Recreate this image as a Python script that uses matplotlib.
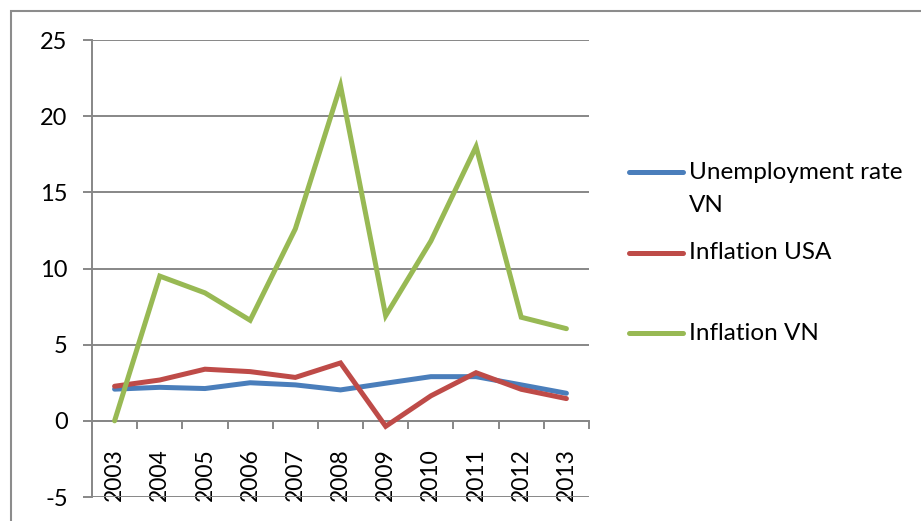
import matplotlib
matplotlib.use("Agg")
import matplotlib.pyplot as plt
from matplotlib.lines import Line2D
from matplotlib.patches import Rectangle
import numpy as np

years = ["2003", "2004", "2005", "2006", "2007", "2008", "2009", "2010", "2011", "2012", "2013"]
unemployment_vn = [2.08, 2.2, 2.12, 2.5, 2.36, 2.03, 2.47, 2.9, 2.9, 2.36, 1.81]
inflation_usa = [2.27, 2.68, 3.39, 3.23, 2.85, 3.8, -0.36, 1.64, 3.16, 2.07, 1.46]
inflation_vn = [0.0, 9.5, 8.4, 6.6, 12.6, 22.0, 6.9, 11.8, 18.0, 6.8, 6.05]
series_labels = ["Unemployment rate\nVN", "Inflation USA", "Inflation VN"]
colors = ["#4A7EBB", "#BE4B48", "#98B954"]
y_ticks = [-5, 0, 5, 10, 15, 20, 25]

plt.rcParams['font.family'] = ['Lato', 'DejaVu Sans']

W, H = 921, 521
fig = plt.figure(figsize=(W / 100, H / 100), dpi=100)
fig.patch.set_facecolor("white")

# outer chart border
fig.add_artist(Rectangle((11 / W, -0.5), 2.0, 0.5 + (1 - 11 / H),
                         transform=fig.transFigure, fill=False,
                         edgecolor="#8c8c8c", linewidth=1.5))

left, right = 92 / W, 589 / W
bottom, top = 1 - 497 / H, 1 - 40 / H
ax = fig.add_axes([left, bottom, right - left, top - bottom])

x = np.arange(len(years))
for vals, c in zip([unemployment_vn, inflation_usa, inflation_vn], colors):
    ax.plot(x, vals, color=c, linewidth=3.6, solid_capstyle="round",
            solid_joinstyle="miter", zorder=3)

ax.set_xlim(-0.5, len(years) - 0.5)
ax.set_ylim(-5, 25)
ax.set_yticks(y_ticks)
ax.set_yticklabels([str(v) for v in y_ticks], fontsize=17)
ax.yaxis.grid(True, color="#878787", linewidth=1.4)
ax.set_axisbelow(True)

for s in ["top", "right"]:
    ax.spines[s].set_visible(False)
ax.spines["left"].set_color("#878787")
ax.spines["left"].set_linewidth(1.4)
ax.spines["bottom"].set_position(("data", 0))
ax.spines["bottom"].set_color("#878787")
ax.spines["bottom"].set_linewidth(1.4)

ax.tick_params(axis="y", direction="out", length=6.5, width=1.4,
               color="#878787", pad=11)
ax.set_xticks(x)
ax.set_xticklabels(years, rotation=90, fontsize=16.5, va="top", ha="center")
ax.set_xticks(np.arange(-0.5, len(years)), minor=True)
ax.tick_params(axis="x", which="major", length=0, pad=19.5)
ax.tick_params(axis="x", which="minor", direction="out", length=6,
               width=1.4, color="#878787")

# legend drawn manually
leg_y = [172, 253, 333]
for lab, c, yy in zip(series_labels, colors, leg_y):
    fy = 1 - yy / H
    fig.add_artist(Line2D([629 / W, 683 / W], [fy, fy], transform=fig.transFigure,
                          color=c, linewidth=3.6, solid_capstyle="round"))
    lines = lab.split("\n")
    for i, ln in enumerate(lines):
        fig.text(689 / W, 1 - (yy + i * 33) / H, ln, fontsize=17.5,
                 va="center", ha="left", color="black")

fig.savefig("out.png", dpi=100, facecolor="white")
